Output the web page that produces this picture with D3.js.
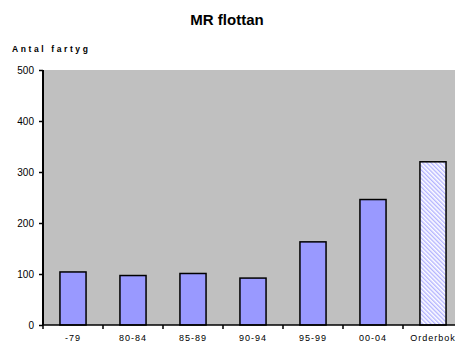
<!DOCTYPE html>
<html><head><meta charset="utf-8">
<script src="https://cdn.jsdelivr.net/npm/d3@7"></script>
<style>body{margin:0;background:#fff;}svg{display:block;font-family:Arial,"Liberation Sans",sans-serif;}</style>
</head><body>
<svg id="c" width="455" height="349"></svg>
<script>
const categories = ["-79","80-84","85-89","90-94","95-99","00-04","Orderbok"];
const values = [104, 97, 101, 92, 163, 246, 320];
const hatched = [false,false,false,false,false,false,true];
const yTicks = [0,100,200,300,400,500];

(function(){
const svg = d3.select("#c");
const mLeft = 43, mTop = 70, mBottom = 325;
const band = 60;
const x = d3.scaleBand().domain(categories).range([mLeft, mLeft + band*categories.length]).paddingInner(0.565).paddingOuter(0.565/2);
const y = d3.scaleLinear().domain([0,500]).range([mBottom, mTop]);

const defs = svg.append("defs");
const pat = defs.append("pattern").attr("id","hatch").attr("patternUnits","userSpaceOnUse")
  .attr("width",3).attr("height",3).attr("patternTransform","rotate(-45)");
pat.append("rect").attr("width",3).attr("height",3).attr("fill","#ffffff");
pat.append("rect").attr("width",1.4).attr("height",3).attr("fill","#b4b4ff");

svg.append("rect").attr("x",mLeft).attr("y",mTop).attr("width",455-mLeft).attr("height",mBottom-mTop).attr("fill","#c0c0c0");

svg.selectAll("rect.bar").data(categories).enter().append("rect").attr("class","bar")
  .attr("x", d=>x(d)).attr("width", x.bandwidth())
  .attr("y", (d,i)=>y(values[i])).attr("height",(d,i)=>mBottom-y(values[i]))
  .attr("fill",(d,i)=>hatched[i]?"url(#hatch)":"#9999ff")
  .attr("stroke","#000").attr("stroke-width",1.5);

const yAxis = d3.axisLeft(y).tickValues(yTicks).tickSize(4).tickPadding(5);
const ga = svg.append("g").attr("transform",`translate(${mLeft},0)`).call(yAxis);
ga.select(".domain").attr("stroke","#000").attr("stroke-width",2).attr("d",`M0,${mTop}V${mBottom}`);
ga.selectAll("text").attr("font-size",10).attr("fill","#000").attr("font-family","Arial, Liberation Sans, sans-serif");
ga.selectAll(".tick line").attr("stroke-width",1.5);

const xAxis = d3.axisBottom(x).tickSize(0).tickPadding(10);
const gx = svg.append("g").attr("transform",`translate(0,${mBottom})`).call(xAxis);
gx.select(".domain").attr("stroke","#000").attr("stroke-width",1.5).attr("d",`M${mLeft},0H455`);
gx.selectAll("text").attr("font-size",9).attr("fill","#000").attr("letter-spacing","1px").attr("font-family","Arial, Liberation Sans, sans-serif");
const bounds = d3.range(categories.length+1).map(i=>x.step()*i + mLeft);
svg.selectAll("line.sep").data(bounds).enter().append("line").attr("class","sep")
  .attr("x1",d=>d).attr("x2",d=>d).attr("y1",mBottom).attr("y2",mBottom+4)
  .attr("stroke","#000").attr("stroke-width",1.5);

svg.append("text").attr("x",227).attr("y",25).attr("text-anchor","middle")
  .attr("font-size",15).attr("font-weight","bold").text("MR flottan");
svg.append("text").attr("x",12).attr("y",52).attr("font-size",8.5).attr("font-weight","bold")
  .attr("letter-spacing","2.6px").text("Antal fartyg");
})();
</script>
</body></html>
